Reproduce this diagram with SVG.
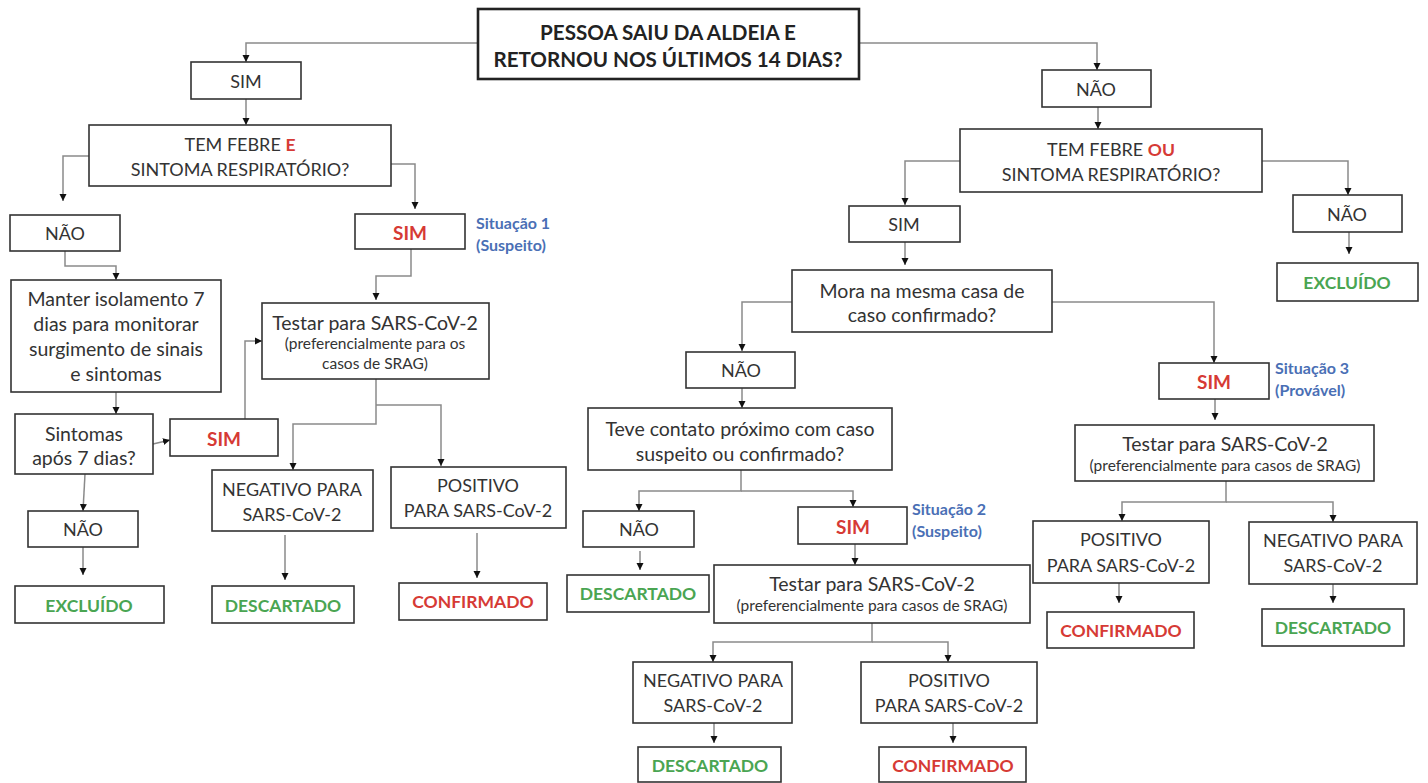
<svg xmlns="http://www.w3.org/2000/svg" width="1428" height="783" viewBox="0 0 1428 783">
<defs>
<marker id="ah" markerWidth="8" markerHeight="8" refX="7" refY="4" orient="auto" markerUnits="userSpaceOnUse">
<path d="M0,0.5 L7,4 L0,7.5 Z" fill="#111"/>
</marker>
<style>
rect.n{fill:#fff;stroke:#333;stroke-width:1.6}
rect.top{fill:#fff;stroke:#222;stroke-width:2.6}
text{font-family:Lato,"Open Sans","Liberation Sans",sans-serif;font-size:18px;fill:#333;text-anchor:middle;dominant-baseline:central}
.l{font-size:19.5px}
.h{font-weight:bold;font-size:20.6px;fill:#222}
.s{font-size:15.5px}
.r{fill:#d63a35;font-weight:bold;font-size:17.5px}
.sim{font-size:19px}
.g{fill:#4aa552;font-weight:bold;font-size:17.5px}
.b{fill:#4a6fb5;font-weight:bold;font-size:16px;text-anchor:start}
#conn path{fill:none;stroke:#8a8a8a;stroke-width:1.5;marker-end:url(#ah)}
</style>
</defs>
<rect width="1428" height="783" fill="#fff"/>
<g id="conn">
<path d="M478,43 H246 V62"/>
<path d="M859,43 H1097 V70"/>
<path d="M246,99 V125"/>
<path d="M89,156 H63 V201"/>
<path d="M391,164 H415 V209"/>
<path d="M65,251 V266 H116 V280"/>
<path d="M411,249 V276 H376 V300"/>
<path d="M116,392 V414"/>
<path d="M153,444 L170,440"/>
<path d="M245,419 V341 H262"/>
<path d="M376,379 V424 H293 V470"/>
<path d="M376,405 H441 V466"/>
<path d="M85,474 L83,511"/>
<path d="M83,547 V575"/>
<path d="M285,535 V580"/>
<path d="M477,533 V578"/>
<path d="M1098,107 V129"/>
<path d="M960,161 H905 V205"/>
<path d="M1262,161 H1348 V195"/>
<path d="M1349,232 V254"/>
<path d="M905,242 V265"/>
<path d="M792,302 H742 V351"/>
<path d="M1052,302 H1214 V363"/>
<path d="M742,388 V408"/>
<path d="M741,470 V491 H639 V511"/>
<path d="M741,491 H853 V507"/>
<path d="M640,551 V570"/>
<path d="M855,544 V565"/>
<path d="M872,623 V642 H713 V662"/>
<path d="M872,642 H948 V662"/>
<path d="M714,723 V743"/>
<path d="M953,723 V743"/>
<path d="M1215,399 V420"/>
<path d="M1226,481 V502 H1122 V521"/>
<path d="M1226,502 H1333 V522"/>
<path d="M1119,583 V603"/>
<path d="M1333,584 V603"/>
</g>
<g id="n-top"><rect class="top" x="478" y="9" width="381" height="70"/><text class="h" x="668" y="32">PESSOA SAIU DA ALDEIA E</text><text class="h" x="668" y="59">RETORNOU NOS ÚLTIMOS 14 DIAS?</text></g>
<g id="n-sim-l"><rect class="n" x="191" y="62" width="110" height="37"/><text x="246" y="81">SIM</text></g>
<g id="n-febre-e"><rect class="n" x="89" y="125" width="302" height="61"/><text x="240" y="144">TEM FEBRE <tspan class="r">E</tspan></text><text x="240" y="169">SINTOMA RESPIRATÓRIO?</text></g>
<g id="n-nao-l"><rect class="n" x="10" y="215" width="110" height="36"/><text x="65" y="233">NÃO</text></g>
<g id="n-sim-s1"><rect class="n" x="355" y="214" width="110" height="35"/><text class="r sim" x="410" y="232">SIM</text></g>
<text class="b" x="476" y="222">Situação 1</text>
<text class="b" x="476" y="244">(Suspeito)</text>
<g id="n-manter"><rect class="n" x="11" y="280" width="210" height="112"/><text class="l" x="116" y="298">Manter isolamento 7</text><text class="l" x="116" y="323">dias para monitorar</text><text class="l" x="116" y="348">surgimento de sinais</text><text class="l" x="116" y="373">e sintomas</text></g>
<g id="n-sintomas"><rect class="n" x="15" y="414" width="138" height="60"/><text class="l" x="84" y="433">Sintomas</text><text class="l" x="84" y="457">após 7 dias?</text></g>
<g id="n-sim-2"><rect class="n" x="170" y="419" width="108" height="37"/><text class="r sim" x="224" y="438">SIM</text></g>
<g id="n-testar-1"><rect class="n" x="262" y="303" width="227" height="76"/><text class="l" x="375" y="322">Testar para SARS-CoV-2</text><text class="s" x="375" y="343">(preferencialmente para os</text><text class="s" x="375" y="363">casos de SRAG)</text></g>
<g id="n-neg-1"><rect class="n" x="212" y="470" width="161" height="61"/><text x="292" y="489">NEGATIVO PARA</text><text x="292" y="514">SARS-CoV-2</text></g>
<g id="n-pos-1"><rect class="n" x="391" y="467" width="175" height="61"/><text x="478" y="485">POSITIVO</text><text x="478" y="510">PARA SARS-CoV-2</text></g>
<g id="n-nao-2"><rect class="n" x="28" y="511" width="110" height="36"/><text x="83" y="529">NÃO</text></g>
<g id="n-excl-1"><rect class="n" x="15" y="586" width="149" height="37"/><text class="g" x="89" y="605">EXCLUÍDO</text></g>
<g id="n-desc-1"><rect class="n" x="212" y="586" width="142" height="37"/><text class="g" x="283" y="605">DESCARTADO</text></g>
<g id="n-conf-1"><rect class="n" x="399" y="583" width="148" height="37"/><text class="r" x="473" y="601">CONFIRMADO</text></g>
<g id="n-nao-r"><rect class="n" x="1042" y="70" width="109" height="37"/><text x="1096" y="89">NÃO</text></g>
<g id="n-febre-ou"><rect class="n" x="960" y="129" width="302" height="63"/><text x="1111" y="149">TEM FEBRE <tspan class="r">OU</tspan></text><text x="1111" y="174">SINTOMA RESPIRATÓRIO?</text></g>
<g id="n-sim-r"><rect class="n" x="849" y="206" width="111" height="36"/><text x="904" y="224">SIM</text></g>
<g id="n-nao-r2"><rect class="n" x="1293" y="195" width="109" height="37"/><text x="1347" y="214">NÃO</text></g>
<g id="n-excl-2"><rect class="n" x="1277" y="263" width="141" height="38"/><text class="g" x="1347" y="282">EXCLUÍDO</text></g>
<g id="n-mora"><rect class="n" x="792" y="270" width="260" height="62"/><text class="l" x="922" y="290">Mora na mesma casa de</text><text class="l" x="922" y="314">caso confirmado?</text></g>
<g id="n-nao-3"><rect class="n" x="686" y="352" width="109" height="36"/><text x="741" y="370">NÃO</text></g>
<g id="n-teve"><rect class="n" x="588" y="408" width="304" height="62"/><text class="l" x="740" y="428">Teve contato próximo com caso</text><text class="l" x="740" y="453">suspeito ou confirmado?</text></g>
<g id="n-nao-4"><rect class="n" x="583" y="511" width="111" height="36"/><text x="639" y="529">NÃO</text></g>
<g id="n-sim-s2"><rect class="n" x="798" y="507" width="109" height="37"/><text class="r sim" x="853" y="526">SIM</text></g>
<text class="b" x="912" y="508">Situação 2</text>
<text class="b" x="912" y="530">(Suspeito)</text>
<g id="n-desc-2"><rect class="n" x="567" y="575" width="142" height="37"/><text class="g" x="638" y="593">DESCARTADO</text></g>
<g id="n-testar-2"><rect class="n" x="714" y="565" width="316" height="58"/><text class="l" x="872" y="583">Testar para SARS-CoV-2</text><text class="s" x="872" y="605">(preferencialmente para casos de SRAG)</text></g>
<g id="n-neg-2"><rect class="n" x="633" y="662" width="159" height="61"/><text x="713" y="680">NEGATIVO PARA</text><text x="713" y="705">SARS-CoV-2</text></g>
<g id="n-pos-2"><rect class="n" x="861" y="662" width="176" height="61"/><text x="949" y="680">POSITIVO</text><text x="949" y="705">PARA SARS-CoV-2</text></g>
<g id="n-desc-3"><rect class="n" x="638" y="747" width="143" height="35"/><text class="g" x="710" y="765">DESCARTADO</text></g>
<g id="n-conf-2"><rect class="n" x="879" y="747" width="147" height="35"/><text class="r" x="953" y="765">CONFIRMADO</text></g>
<g id="n-sim-s3"><rect class="n" x="1159" y="363" width="110" height="36"/><text class="r sim" x="1214" y="381">SIM</text></g>
<text class="b" x="1275" y="367">Situação 3</text>
<text class="b" x="1275" y="389">(Provável)</text>
<g id="n-testar-3"><rect class="n" x="1075" y="425" width="299" height="56"/><text class="l" x="1225" y="443">Testar para SARS-CoV-2</text><text class="s" x="1225" y="465">(preferencialmente para casos de SRAG)</text></g>
<g id="n-pos-3"><rect class="n" x="1033" y="521" width="176" height="62"/><text x="1121" y="539">POSITIVO</text><text x="1121" y="565">PARA SARS-CoV-2</text></g>
<g id="n-neg-3"><rect class="n" x="1249" y="522" width="168" height="62"/><text x="1333" y="540">NEGATIVO PARA</text><text x="1333" y="565">SARS-CoV-2</text></g>
<g id="n-conf-3"><rect class="n" x="1047" y="612" width="147" height="36"/><text class="r" x="1121" y="630">CONFIRMADO</text></g>
<g id="n-desc-4"><rect class="n" x="1262" y="609" width="142" height="37"/><text class="g" x="1333" y="627">DESCARTADO</text></g>
</svg>
